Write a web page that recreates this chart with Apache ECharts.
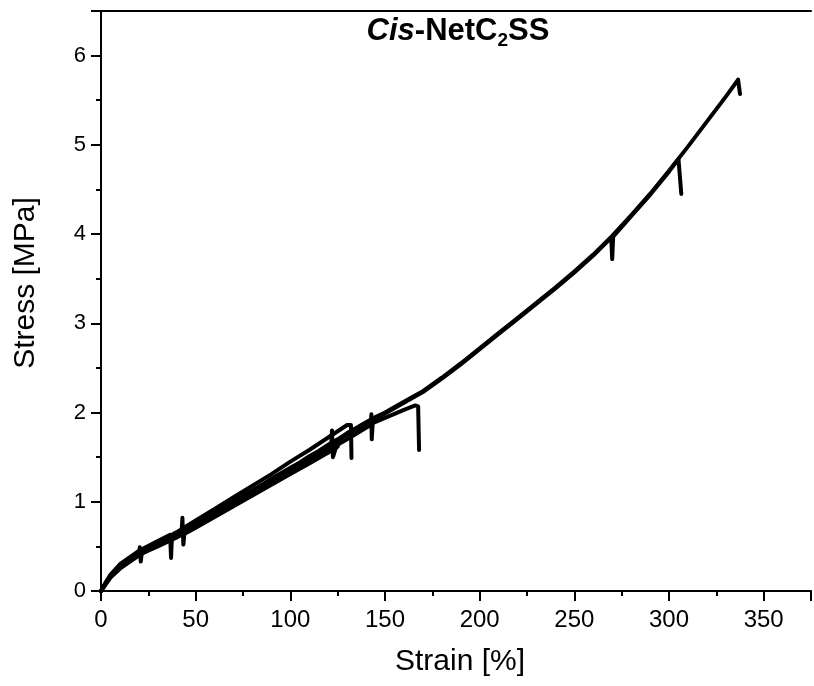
<!DOCTYPE html>
<html>
<head>
<meta charset="utf-8">
<script src="https://cdn.jsdelivr.net/npm/echarts@6/dist/echarts.min.js"></script>
<style>html,body{margin:0;padding:0;background:#fff;}#c{width:814px;height:686px;}</style>
</head>
<body>
<div id="c"></div>
<script>
// Axis ticks
const xTicks = [0, 50, 100, 150, 200, 250, 300, 350];
const yTicks = [0, 1, 2, 3, 4, 5, 6];

// Sample A (longest, to ~337 %)
const strainA = [0, 2, 5, 10, 15, 20, 25, 30, 35, 40, 45, 50, 55, 60, 65, 70, 75, 80, 85, 90, 95, 100, 105, 110, 115, 120, 125, 130, 135, 140, 145, 150, 160, 170, 180, 190, 200, 210, 220, 230, 240, 250, 260, 270, 280, 290, 300, 310, 320, 330, 336.5, 337, 337.5];
const stressA = [0, 0.08, 0.18, 0.29, 0.37, 0.43, 0.49, 0.54, 0.60, 0.65, 0.71, 0.77, 0.83, 0.89, 0.95, 1.01, 1.07, 1.13, 1.19, 1.26, 1.32, 1.38, 1.44, 1.51, 1.57, 1.64, 1.70, 1.77, 1.83, 1.89, 1.95, 2.00, 2.12, 2.24, 2.39, 2.55, 2.72, 2.89, 3.06, 3.23, 3.40, 3.58, 3.77, 3.98, 4.21, 4.45, 4.71, 4.98, 5.26, 5.54, 5.73, 5.74, 5.57];

// Sample B (to ~306 %)
const strainB = [0, 5, 10, 20, 30, 40, 50, 60, 70, 80, 90, 100, 110, 120, 130, 140, 150, 160, 170, 180, 190, 200, 210, 220, 230, 240, 250, 260, 269.5, 270, 270.5, 280, 290, 300, 305, 306, 306.5];
const stressB = [0, 0.17, 0.27, 0.41, 0.52, 0.63, 0.75, 0.87, 0.99, 1.11, 1.24, 1.36, 1.49, 1.62, 1.75, 1.87, 1.99, 2.11, 2.23, 2.38, 2.54, 2.71, 2.88, 3.05, 3.22, 3.39, 3.57, 3.76, 3.96, 3.72, 3.97, 4.20, 4.44, 4.70, 4.84, 4.86, 4.45];

// Sample C (to ~168 %)
const strainC = [0, 5, 10, 20, 30, 40, 50, 60, 70, 80, 90, 100, 110, 120, 130, 140, 142.5, 142.8, 143, 143.5, 150, 160, 166, 167.5, 168];
const stressC = [0, 0.16, 0.26, 0.40, 0.51, 0.61, 0.73, 0.85, 0.97, 1.09, 1.21, 1.33, 1.45, 1.58, 1.70, 1.83, 1.86, 1.98, 1.70, 1.88, 1.94, 2.03, 2.08, 2.07, 1.58];

// Sample D (upper branch, to ~132 %)
const strainD = [0, 5, 10, 20, 30, 36.5, 37, 37.5, 40, 50, 60, 70, 80, 90, 100, 110, 120, 125, 130, 132, 132.3];
const stressD = [0, 0.18, 0.30, 0.45, 0.56, 0.63, 0.37, 0.63, 0.66, 0.79, 0.92, 1.05, 1.18, 1.31, 1.45, 1.58, 1.72, 1.79, 1.86, 1.86, 1.49];

// Sample E (to ~125 %)
const strainE = [0, 5, 10, 20, 20.5, 21, 21.5, 30, 40, 42.5, 43, 43.5, 44, 50, 60, 70, 80, 90, 100, 110, 115, 121.5, 122, 122.5, 124, 125];
const stressE = [0, 0.15, 0.25, 0.40, 0.49, 0.33, 0.42, 0.50, 0.60, 0.63, 0.82, 0.52, 0.64, 0.71, 0.83, 0.95, 1.07, 1.19, 1.31, 1.43, 1.49, 1.57, 1.80, 1.50, 1.60, 1.62];

const zip = (xs, ys) => xs.map((x, i) => [x, ys[i]]);
const samples = [[strainA, stressA], [strainB, stressB], [strainC, stressC], [strainD, stressD], [strainE, stressE]];

const font = "'Liberation Sans', Arial, sans-serif";
const chart = echarts.init(document.getElementById('c'), null, {renderer: 'canvas'});

const lineSeries = samples.map(([xs, ys]) => ({
  type: 'line',
  data: zip(xs, ys),
  showSymbol: false,
  symbol: 'none',
  lineStyle: {color: '#000', width: 4, join: 'round', cap: 'round'},
  animation: false
}));

chart.setOption({
  animation: false,
  backgroundColor: '#fff',
  grid: {left: 101, right: -7, top: 11, bottom: 95, containLabel: false},
  graphic: [{
    type: 'text',
    x: 458, y: 31,
    style: {
      text: '{i|Cis}{b|-NetC}{s|2}{b|SS}',
      align: 'center',
      verticalAlign: 'middle',
      rich: {
        i: {fontFamily: font, fontSize: 31, fontWeight: 'bold', fontStyle: 'italic', fill: '#000', lineHeight: 38, verticalAlign: 'middle'},
        b: {fontFamily: font, fontSize: 31, fontWeight: 'bold', fill: '#000', lineHeight: 38, verticalAlign: 'middle'},
        s: {fontFamily: font, fontSize: 19, fontWeight: 'bold', fill: '#000', lineHeight: 38, verticalAlign: 'bottom'}
      }
    }
  }],
  xAxis: [{
    type: 'value', min: 0, max: 375, interval: 50,
    position: 'bottom',
    name: 'Strain [%]', nameLocation: 'middle', nameGap: 56,
    nameTextStyle: {fontFamily: font, fontSize: 30, color: '#000', padding: [0, 0, 0, 8]},
    axisLine: {show: true, onZero: false, lineStyle: {color: '#000', width: 2}},
    axisTick: {show: true, inside: false, length: 10, lineStyle: {color: '#000', width: 2}},
    minorTick: {show: true, splitNumber: 2, length: 5, lineStyle: {color: '#000', width: 2}},
    axisLabel: {fontFamily: font, fontSize: 24, color: '#000', margin: 17,
      formatter: v => xTicks.includes(v) ? String(v) : ''},
    splitLine: {show: false}
  }, {
    type: 'value', min: 0, max: 375, position: 'top',
    axisLine: {show: true, onZero: false, lineStyle: {color: '#000', width: 2}},
    axisTick: {show: false}, axisLabel: {show: false}, splitLine: {show: false}
  }],
  yAxis: [{
    type: 'value', min: 0, max: 6.5, interval: 1,
    name: 'Stress [MPa]', nameLocation: 'middle', nameGap: 60,
    nameTextStyle: {fontFamily: font, fontSize: 30, color: '#000', padding: [0, 0, 0, 36]},
    axisLine: {show: true, onZero: false, lineStyle: {color: '#000', width: 2}},
    axisTick: {show: true, inside: false, length: 10, lineStyle: {color: '#000', width: 2}},
    minorTick: {show: true, splitNumber: 2, length: 5, lineStyle: {color: '#000', width: 2}},
    axisLabel: {fontFamily: font, fontSize: 22, color: '#000', margin: 15,
      formatter: v => yTicks.includes(v) ? String(v) : ''},
    splitLine: {show: false}
  }],
  series: lineSeries
});
</script>
</body>
</html>
